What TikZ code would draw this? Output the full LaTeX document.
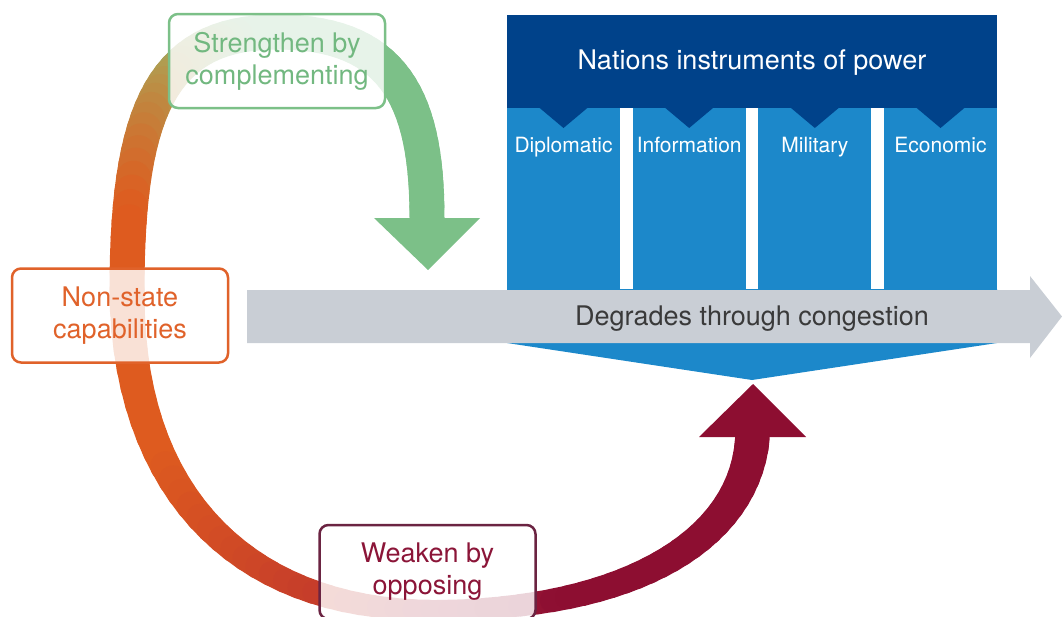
\documentclass[tikz,border=0pt]{standalone}
\usepackage{fontspec}
\setmainfont{TeX Gyre Heros}
\usetikzlibrary{calc}

\definecolor{navy}{HTML}{00428A}
\definecolor{pillar}{HTML}{1C88CA}
\definecolor{haze}{HTML}{C9CED5}
\definecolor{ink}{HTML}{3A3A3A}
\definecolor{leaf}{HTML}{7CC088}
\definecolor{leaftext}{HTML}{72B880}
\definecolor{moss}{HTML}{B39A4E}
\definecolor{ember}{HTML}{DE5B1F}
\definecolor{embertext}{HTML}{E0622A}
\definecolor{rust}{HTML}{C43B2B}
\definecolor{berry}{HTML}{A5223A}
\definecolor{wine}{HTML}{8D0E31}
\definecolor{winetext}{HTML}{8B1538}
\definecolor{plum}{HTML}{6B2442}

\newcommand{\tagfont}{\fontsize{27}{32}\selectfont}
\newcommand{\pillarfont}{\fontsize{21}{25}\selectfont}

\tikzset{
  band/.style={line cap=round},
  tag/.style={draw, line width=2.5pt, rounded corners=9pt, fill=white, fill opacity=0.82, text opacity=1,
    align=center, minimum width=216pt, minimum height=94pt, inner sep=0pt},
}

\begin{document}
\begin{tikzpicture}[x=1pt, y=-1pt, font=\tagfont]
    \useasboundingbox (0,0) rectangle (1062,616);
    \clip (0,0) rectangle (1062,616);

    \coordinate (G0) at (427,218);
    \coordinate (G1) at (427,100);
    \coordinate (G2) at (395,32);
    \coordinate (T) at (277,32);
    \coordinate (T1) at (165,32);
    \coordinate (T2) at (127,105);
    \coordinate (L) at (127,290);
    \coordinate (L1) at (127,500);
    \coordinate (L2) at (250,610);
    \coordinate (U) at (430,610);
    \coordinate (U1) at (620,612);
    \coordinate (U2) at (745,545);
    \coordinate (R0) at (752.5,437);

    \foreach \i in {0,...,29} {
      \pgfmathsetmacro\ta{\i/30}
      \pgfmathsetmacro\tb{(\i+1)/30}
      \path (G0) .. controls (G1) and (G2) .. (T) coordinate[pos=\ta] (u) coordinate[pos=\tb] (v);
      \draw[band, line width=35pt, leaf] (u) -- (v);
    }

    \foreach \i in {0,...,29} {
      \pgfmathsetmacro\ta{\i/30}
      \pgfmathsetmacro\tb{(\i+1)/30}
      \pgfmathtruncatemacro\pa{100*(1-min(max((\ta-0.1)/0.35,0),1))}
      \pgfmathtruncatemacro\pb{100*(1-min(max((\ta-0.45)/0.4,0),1))}
      \path (T) .. controls (T1) and (T2) .. (L) coordinate[pos=\ta] (u) coordinate[pos=\tb] (v);
      \draw[band, line width=35pt, draw=leaf!\pa!moss!\pb!ember] (u) -- (v);
    }

    \foreach \i in {0,...,29} {
      \pgfmathsetmacro\ta{\i/30}
      \pgfmathsetmacro\tb{(\i+1)/30}
      \pgfmathsetmacro\w{35-15*\ta}
      \pgfmathtruncatemacro\pa{100*(1-min(max((\ta-0.3)/0.5,0),1))}
      \pgfmathtruncatemacro\pb{100*(1-min(max((\ta-0.8)/0.2,0),1))}
      \path (L) .. controls (L1) and (L2) .. (U) coordinate[pos=\ta] (u) coordinate[pos=\tb] (v);
      \draw[band, line width=\w pt, draw=ember!\pa!rust!\pb!berry] (u) -- (v);
    }

    \foreach \i in {0,...,29} {
      \pgfmathsetmacro\ta{\i/30}
      \pgfmathsetmacro\tb{(\i+1)/30}
      \pgfmathsetmacro\w{20+15*\ta}
      \pgfmathtruncatemacro\pa{100*(1-min(\ta/0.25,1))}
      \path (U) .. controls (U1) and (U2) .. (R0) coordinate[pos=\ta] (u) coordinate[pos=\tb] (v);
      \draw[band, line width=\w pt, draw=berry!\pa!wine] (u) -- (v);
    }

    \coordinate (Gtip) at (428,270);
    \fill[leaf] ($(G0)+(-53,0)$) -- ($(G0)+(53,0)$) -- (Gtip) -- cycle;

    \coordinate (Rtip) at (753,384);
    \fill[wine] ($(R0)+(-53.5,0)$) -- ($(R0)+(53.5,0)$) -- (Rtip) -- cycle;

    \node[tag, draw=leaf, text=leaftext] (strengthen) at (277,61) {Strengthen by\\complementing};
    \node[tag, draw=embertext, text=embertext] (nonstate) at (120,315.5) {Non-state\\capabilities};
    \node[tag, draw=plum, text=winetext] (weaken) at (427.5,572) {Weaken by\\opposing};

    \fill[pillar] (507,289) -- (997,289) -- (997,343) -- (752,380) -- (507,343) -- cycle;

    \foreach \c [count=\n] in {Diplomatic, Information, Military, Economic} {
      \pgfmathsetmacro\xl{507+(\n-1)*125.67}
      \fill[pillar] (\xl,107) rectangle ++(113,183);
      \fill[navy] (\xl+31.5,107) -- ++(50,0) -- ++(-25,21) -- cycle;
      \node[anchor=base, text=white, font=\pillarfont] (pillar\n) at (\xl+56.5,152) {\c};
    }

    \fill[navy] (507,15) rectangle (997,108);
    \node[anchor=base, text=white] (nations) at (752,69) {Nations instruments of power};

    \fill[haze] (247,290) -- (1030,290) -- (1030,276) -- (1062,316.5) -- (1030,358) -- (1030,343) -- (247,343) -- cycle;
    \node[anchor=base, text=ink] (degrades) at (752,325) {Degrades through congestion};

  \end{tikzpicture}
\end{document}
